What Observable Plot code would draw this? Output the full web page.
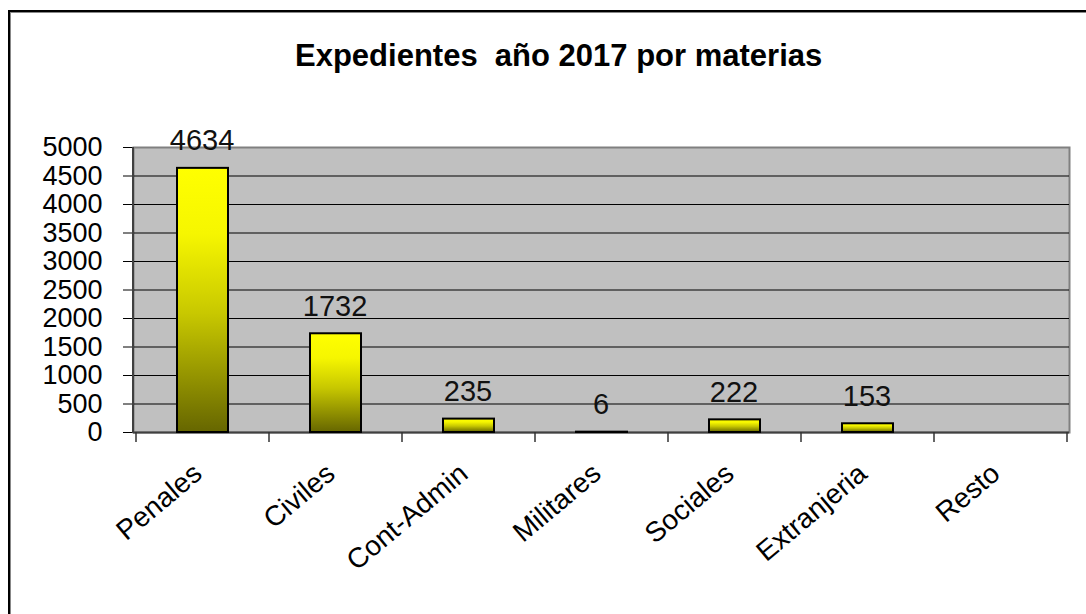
<!DOCTYPE html>
<html>
<head>
<meta charset="utf-8">
<script src="https://cdn.jsdelivr.net/npm/d3@7"></script>
<script src="https://cdn.jsdelivr.net/npm/@observablehq/plot@0.6"></script>
<style>
  html, body { margin: 0; padding: 0; background: #fff; overflow: hidden; width: 1086px; height: 614px; }
  #frame { position: absolute; left: 8px; top: 10px; width: 1200px; height: 700px;
           border-left: 2px solid #000; border-top: 2px solid #000;
           box-shadow: inset 1px 1px 0 #888; pointer-events: none; }
  #title { position: absolute; left: 0; top: 40px; width: 1086px; text-align: left;
           font-family: "Liberation Sans", Arial, sans-serif; font-weight: bold;
           font-size: 31px; line-height: 31px; white-space: pre; color: #000; }
  #title span { position: absolute; left: 295px; }
  #chart { position: absolute; left: 0; top: 100px; }
</style>
</head>
<body>
<div id="title"><span>Expedientes  año 2017 por materias</span></div>
<div id="chart"></div>
<div id="frame"></div>
<script>
const categories = ["Penales", "Civiles", "Cont-Admin", "Militares", "Sociales", "Extranjeria", "Resto"];
const values = [4634, 1732, 235, 6, 222, 153, null];
const yTicks = [0, 500, 1000, 1500, 2000, 2500, 3000, 3500, 4000, 4500, 5000];
const gridTicks = [500, 1000, 1500, 2000, 2500, 3000, 3500, 4000, 4500];

const data = categories.map((c, i) => ({cat: c, value: values[i]}));
const labeled = data.filter(d => d.value != null);

const boundaryTicks = (index, scales, vals, dims) => {
  const x = scales.x;
  const bw = x.bandwidth ? x.bandwidth() : (dims.width - dims.marginLeft - dims.marginRight) / categories.length;
  const y0 = dims.height - dims.marginBottom;
  const g = d3.create("svg:g");
  const xs = categories.map(c => x(c)).concat([x(categories[categories.length - 1]) + bw]);
  g.selectAll("line.t").data(xs).join("line")
    .attr("x1", d => d).attr("x2", d => d)
    .attr("y1", y0).attr("y2", y0 + 10)
    .attr("stroke", "#333").attr("stroke-width", 1.5);
  g.append("line")
    .attr("x1", dims.marginLeft).attr("x2", dims.marginLeft)
    .attr("y1", dims.marginTop).attr("y2", y0 + 1)
    .attr("stroke", "#404040").attr("stroke-width", 2);
  return g.node();
};

const plot = Plot.plot({
  width: 1086,
  height: 514,
  marginLeft: 133,
  marginRight: 17,
  marginTop: 47,
  marginBottom: 182,
  style: {fontFamily: "'Liberation Sans', Arial, sans-serif", color: "#000", background: "transparent"},
  x: {domain: categories, padding: 0, label: null},
  y: {domain: [0, 5000], label: null},
  marks: [
    Plot.frame({fill: "#C0C0C0", stroke: "#808080", strokeWidth: 2}),
    Plot.gridY(gridTicks, {stroke: "#000", strokeOpacity: 1, strokeWidth: 1}),
    Plot.ruleY([0], {stroke: "#404040", strokeWidth: 2}),
    Plot.barY(data, {x: "cat", y: "value", fill: "url(#barGrad)", stroke: "#000", strokeWidth: 2, insetLeft: 41, insetRight: 41}),
    Plot.text(labeled, {x: "cat", y: "value", text: d => String(d.value), dy: -18, dx: -1, lineAnchor: "bottom", fontSize: 29, fill: "#111"}),
    Plot.axisY(yTicks, {tickSize: 10, tickPadding: 21, fontSize: 27, tickFormat: d => String(d), stroke: "#000"}),
    Plot.axisX({tickSize: 0, tickPadding: 37, tickRotate: -40, fontSize: 28, dx: -5, label: null}),
    boundaryTicks
  ]
});

const defs = d3.select(plot).insert("defs", ":first-child");
const grad = defs.append("linearGradient").attr("id", "barGrad")
  .attr("x1", 0).attr("y1", 0).attr("x2", 0).attr("y2", 1);
[[0, "#ffff00"], [0.25, "#f6f600"], [0.55, "#c8c800"], [1, "#666600"]].forEach(([o, c]) =>
  grad.append("stop").attr("offset", o).attr("stop-color", c));

document.getElementById("chart").appendChild(plot);
</script>
</body>
</html>
